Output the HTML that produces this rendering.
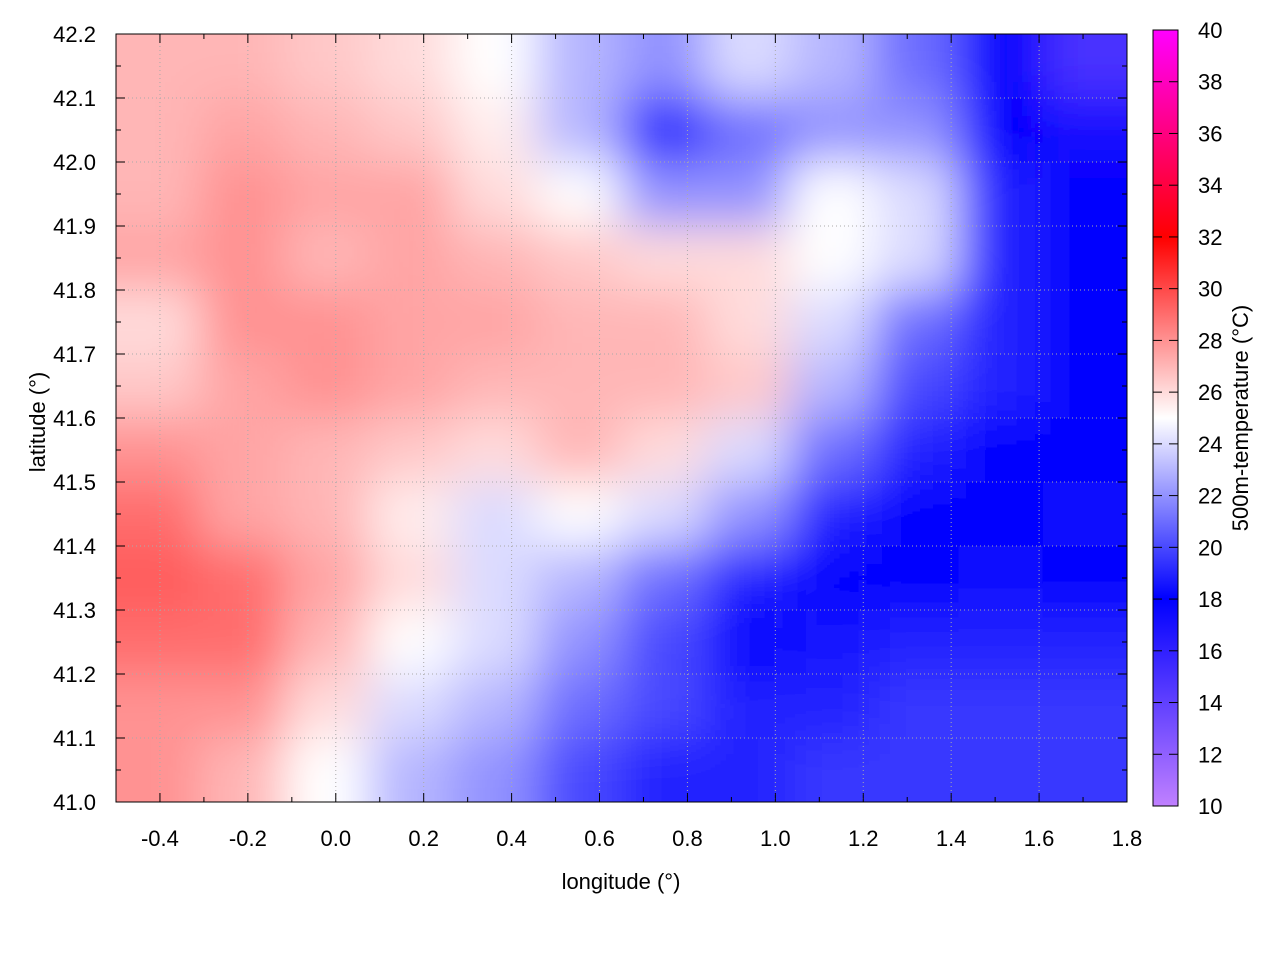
<!DOCTYPE html>
<html><head><meta charset="utf-8"><style>
body{margin:0;background:#fff;}
text{font-family:"Liberation Sans",sans-serif;font-size:22px;fill:#000;}
</style></head><body>
<svg id="c" width="1280" height="960" xmlns="http://www.w3.org/2000/svg">
<defs>
<clipPath id="pc"><rect x="116" y="34" width="1011" height="768"/></clipPath>
<filter id="bl" x="-5%" y="-5%" width="110%" height="110%"><feGaussianBlur stdDeviation="24" edgeMode="duplicate"/></filter>
<linearGradient id="cg" x1="0" y1="1" x2="0" y2="0">
<stop offset="0" stop-color="#c080ff"/><stop offset="0.267" stop-color="#0000ff"/>
<stop offset="0.5" stop-color="#ffffff"/><stop offset="0.733" stop-color="#ff0000"/>
<stop offset="1" stop-color="#ff00ff"/></linearGradient>
</defs>
<g id="heat" clip-path="url(#pc)"><g id="cells" filter="url(#bl)"></g></g>
<g id="grid"></g><g id="axes"></g>
<rect x="116" y="34" width="1011" height="768" fill="none" stroke="#000" stroke-width="1"/>
<rect x="1153" y="30" width="25" height="776" fill="url(#cg)" stroke="#000"/>
<g id="cb"></g>
<text x="621" y="889" text-anchor="middle">longitude (°)</text>
<text transform="translate(45,422) rotate(-90)" text-anchor="middle">latitude (°)</text>
<text transform="translate(1248,418) rotate(-90)" text-anchor="middle">500m-temperature (°C)</text>
</svg>
<script>
const latRows=[42.15,42.05,41.95,41.85,41.75,41.65,41.55,41.45,41.35,41.25,41.15,41.05];
const temps=[
[27,27,26.5,26,25,23,22,24,23,21,18,15],
[27,27.5,27,26.5,25.5,23,19,21,22,22,18,17],
[27,28,27.5,27.5,26,25,22,22,25,24,19,18],
[27.5,28,27,27.5,27,26.5,26,26,25,24,19,18],
[26,28,28,27.5,27.5,27,27,26,24,21,19,18],
[26.5,27.5,28,27.5,27,27,27,26.5,23,20,19,18],
[28,27.5,27,26.5,26,27,26,24,21,19,18,18],
[29,27.5,27,25.5,24,25,24,22,19,18,18,17.5],
[29.5,29,27.5,26,24,23,21,19,18,18,17.5,18],
[29,29,27,25,24,22,20,18,18.5,19,19,19],
[28,28,26,24,23,21,20,19,19,19.5,19.5,19.5],
[28,27,25,23,22,20,19,19,19.5,19.5,19.5,19.5]];
const xTicks=[-0.4,-0.2,0.0,0.2,0.4,0.6,0.8,1.0,1.2,1.4,1.6,1.8];
const yTicks=[41.0,41.1,41.2,41.3,41.4,41.5,41.6,41.7,41.8,41.9,42.0,42.1,42.2];
const cTicks=[10,12,14,16,18,20,22,24,26,28,30,32,34,36,38,40];
const NS='http://www.w3.org/2000/svg';
const X=v=>116+(v+0.5)/2.3*1011, Y=v=>802-(v-41.0)/1.2*768, CY=v=>806-(v-10)/30*776;
function lerp(a,b,t){return a.map((x,i)=>Math.round(x+(b[i]-x)*t));}
function col(t){const s=[[10,[192,128,255]],[18,[0,0,255]],[25,[255,255,255]],[32,[255,0,0]],[40,[255,0,255]]];
 for(let i=0;i<s.length-1;i++){if(t<=s[i+1][0]){const c=lerp(s[i][1],s[i+1][1],(t-s[i][0])/(s[i+1][0]-s[i][0]));return `rgb(${c})`;}}return 'rgb(255,0,255)';}
function mk(tag,a,p){const e=document.createElementNS(NS,tag);for(const k in a)e.setAttribute(k,a[k]);p.appendChild(e);return e;}
const cells=document.getElementById('cells');
const nc=temps[0].length, cw=2.3/nc;
temps.forEach((row,r)=>row.forEach((t,c)=>{
 const lon0=-0.5+c*cw, lat=latRows[r];
 let x0=X(lon0),x1=X(lon0+cw),y0=Y(lat+0.05),y1=Y(lat-0.05);
 if(c==0)x0-=80; if(c==nc-1)x1+=80; if(r==0)y0-=80; if(r==latRows.length-1)y1+=80;
 const e=mk('rect',{x:x0,y:y0,width:x1-x0+1,height:y1-y0+1,fill:col(t)},cells);
 
 
}));
const g=document.getElementById('grid'),ax=document.getElementById('axes');
xTicks.forEach(v=>{const x=X(v);
 mk('line',{x1:x,y1:34,x2:x,y2:802,stroke:'#aaa','stroke-dasharray':'1,3','stroke-width':1},g);
 mk('line',{x1:x,y1:802,x2:x,y2:793,stroke:'#000'},ax);mk('line',{x1:x,y1:34,x2:x,y2:43,stroke:'#000'},ax);
 const m=X(v+0.1); if(v<1.8){mk('line',{x1:m,y1:802,x2:m,y2:797,stroke:'#000'},ax);mk('line',{x1:m,y1:34,x2:m,y2:39,stroke:'#000'},ax);}
 const t=mk('text',{x:x,y:846,'text-anchor':'middle'},ax);t.textContent=v.toFixed(1);
 
 });
{const m=X(-0.5);mk('line',{x1:m,y1:802,x2:m,y2:797,stroke:'#000'},ax);}
yTicks.forEach(v=>{const y=Y(v);
 mk('line',{x1:116,y1:y,x2:1127,y2:y,stroke:'#aaa','stroke-dasharray':'1,3','stroke-width':1},g);
 mk('line',{x1:116,y1:y,x2:125,y2:y,stroke:'#000'},ax);mk('line',{x1:1127,y1:y,x2:1118,y2:y,stroke:'#000'},ax);
 if(v<42.2){const m=Y(v+0.05);mk('line',{x1:116,y1:m,x2:121,y2:m,stroke:'#000'},ax);mk('line',{x1:1127,y1:m,x2:1122,y2:m,stroke:'#000'},ax);}
 const t=mk('text',{x:96,y:y+8,'text-anchor':'end'},ax);t.textContent=v.toFixed(1);
 
 });
const cb=document.getElementById('cb');
cTicks.forEach(v=>{const y=CY(v);
 mk('line',{x1:1153,y1:y,x2:1162,y2:y,stroke:'#000'},cb);mk('line',{x1:1178,y1:y,x2:1169,y2:y,stroke:'#000'},cb);
 const t=mk('text',{x:1198,y:y+8},cb);t.textContent=v;
 
 });
</script>
</body></html>
